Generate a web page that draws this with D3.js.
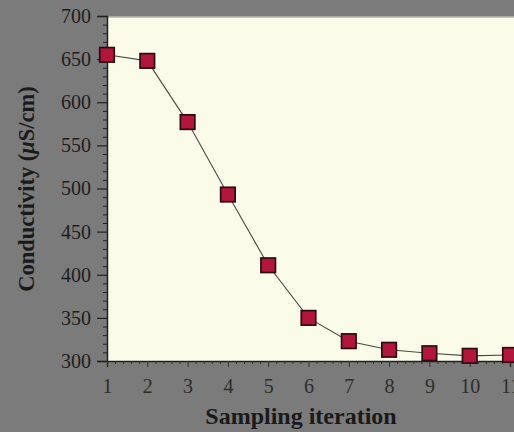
<!DOCTYPE html>
<html><head><meta charset="utf-8">
<script src="https://cdn.jsdelivr.net/npm/d3@7"></script>
<style>body{margin:0;background:#7b7b7b;} svg{display:block;}</style>
</head><body>
<script>
const iterations = [1,2,3,4,5,6,7,8,9,10,11];
const conductivity = [655,648,577,493,411,350,323,313,309,306,307];
const yTicks = [300,350,400,450,500,550,600,650,700];
const xTicks = [1,2,3,4,5,6,7,8,9,10,11];

const W = 514, H = 432;
const svg = d3.select("body").append("svg").attr("width", W).attr("height", H);
svg.append("rect").attr("width", W).attr("height", H).attr("fill", "#7b7b7b");

const x = d3.scaleLinear().domain([1, 11]).range([107, 510]);
const y = d3.scaleLinear().domain([300, 700]).range([361, 16]);

// plot background
svg.append("rect").attr("x", 107).attr("y", y(700)+1).attr("width", W-107).attr("height", y(300)-y(700)-1)
  .attr("fill", "#fbfbea");
svg.append("line").attr("x1",107).attr("x2",W).attr("y1",y(700)+1).attr("y2",y(700)+1)
  .attr("stroke","#b9b9a8").attr("stroke-width",1.5);

const font = "'Liberation Serif','DejaVu Serif',serif";

// y axis
const yAxis = d3.axisLeft(y).tickValues(yTicks).tickSize(10).tickPadding(6);
const gy = svg.append("g").attr("transform","translate(107,0)").call(yAxis);
gy.select(".domain").attr("stroke","#222").attr("stroke-width",1.5);
gy.selectAll(".tick line").attr("stroke","#222").attr("stroke-width",1.2);
gy.selectAll("text").attr("font-family",font).attr("font-size",20).attr("fill","#1e1e1e");
const yMinor = d3.range(300,701,10).filter(v=>v%50!==0);
const gym = svg.append("g").attr("transform","translate(107,0)")
  .call(d3.axisLeft(y).tickValues(yMinor).tickSize(4).tickFormat(""));
gym.select(".domain").remove();
gym.selectAll(".tick line").attr("stroke","#222");

// x axis
const xAxis = d3.axisBottom(x).tickValues(xTicks).tickSize(6).tickPadding(12);
const gx = svg.append("g").attr("transform","translate(0,361)").call(xAxis);
gx.select(".domain").attr("stroke","#222").attr("stroke-width",1.5);
gx.selectAll(".tick line").attr("stroke","#333");
gx.selectAll("text").attr("font-family",font).attr("font-size",20).attr("fill","#2e2e2a");
const xMinor = d3.range(1,11.6,0.2).filter(v=>Math.abs(v-Math.round(v))>0.01);
const gxm = svg.append("g").attr("transform","translate(0,361)")
  .call(d3.axisBottom(x).tickValues(xMinor).tickSize(3).tickFormat(""));
gxm.select(".domain").remove();
gxm.selectAll(".tick line").attr("stroke","#333");

// line
const data = iterations.map((d,i)=>({x:d, y:conductivity[i]}));
svg.append("path").datum(data)
  .attr("d", d3.line().x(d=>x(d.x)).y(d=>y(d.y)))
  .attr("fill","none").attr("stroke","#4a4a40").attr("stroke-width",1.1);

// markers
const s = 14.5;
svg.selectAll("rect.m").data(data).enter().append("rect").attr("class","m")
  .attr("x", d=>x(d.x)-s/2).attr("y", d=>y(d.y)-s/2).attr("width", s).attr("height", s)
  .attr("fill","#b3163b").attr("stroke","#2b0d10").attr("stroke-width",1.7);

// axis labels
svg.append("text").attr("x", 301).attr("y", 424).attr("text-anchor","middle")
  .attr("font-family",font).attr("font-weight","bold").attr("font-size",24).attr("fill","#1a1a1a")
  .text("Sampling iteration");
const yl = svg.append("text").attr("transform","translate(34,189) rotate(-90)").attr("text-anchor","middle")
  .attr("font-family",font).attr("font-weight","bold").attr("font-size",22.5).attr("fill","#1a1a1a");
yl.append("tspan").text("Conductivity (");
yl.append("tspan").attr("font-style","italic").text("μ");
yl.append("tspan").text("S/cm)");
</script>
</body></html>
